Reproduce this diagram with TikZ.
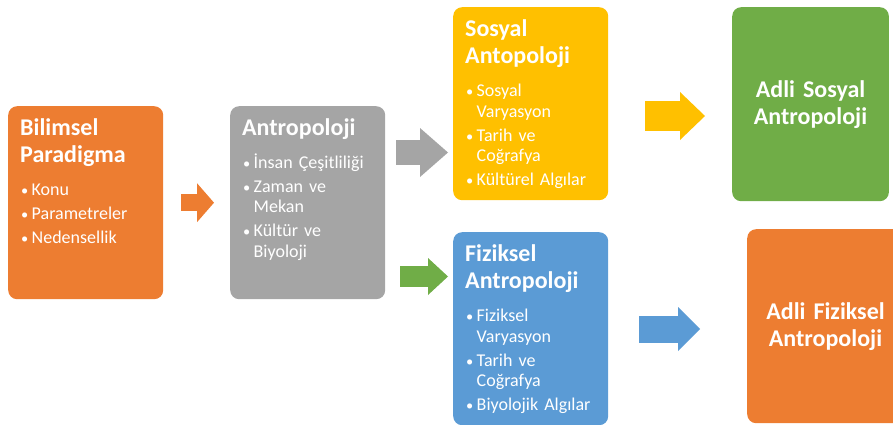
\documentclass[tikz,border=0pt]{standalone}
\usepackage{fontspec}
\setmainfont{Carlito}
\usepackage{tikz}
\usetikzlibrary{positioning,arrows.meta,calc}
\definecolor{paraorange}{HTML}{ED7D31}
\definecolor{antgray}{HTML}{A5A5A5}
\definecolor{sosyellow}{HTML}{FFC000}
\definecolor{adligreen}{HTML}{70AD47}
\definecolor{fizblue}{HTML}{5B9BD5}
\newcommand{\tightspace}{\spaceskip=0.2em plus 0.1em minus 0.05em\relax}
\newcommand{\boxtitle}[1]{{\fontsize{24}{27.5}\selectfont\bfseries\tightspace #1\par}\vspace{12.5pt}}
\newcommand{\bitem}[1]{\par\hangindent=11.5pt\hangafter=1\noindent\makebox[11.5pt][l]{\hspace{1pt}\scalebox{0.8}{\textbullet}}#1\par\vspace{3.5pt}}
\tikzset{
  fieldbox/.style={rounded corners=9pt, minimum width=155pt, minimum height=193pt, inner sep=0pt, anchor=north west},
  fieldtext/.style={text=white, text width=142pt, inner sep=0pt, font=\fontsize{18}{20.5}\selectfont\tightspace, execute at begin node=\raggedright},
  adlibox/.style={rounded corners=9pt, minimum width=155pt, minimum height=194pt, text width=150pt, align=center, text=white, font=\fontsize{24}{27}\selectfont\bfseries\tightspace, anchor=north west},
  blockarrow/.style n args={3}{line width=#1, -{Triangle[length=#2, width=#3, line width=0pt]}}
}
\begin{document}
\begin{tikzpicture}[x=1pt, y=-1pt]
  \clip (0,0) rectangle (893,425);
  \node[fieldbox, fill=paraorange] (bil) at (8,106) {};
  \node[fieldbox, fill=antgray] (ant) at (230,106) {};
  \node[fieldbox, fill=sosyellow] (sos) at (453,7) {};
  \node[fieldbox, fill=fizblue] (fiz) at (453,232) {};
  \node[adlibox, fill=adligreen] (adlisos) at (732,7) {Adli Sosyal\\Antropoloji};
  \node[adlibox, fill=paraorange] (adlifiz) at (747,229) {Adli Fiziksel\\Antropoloji};

  \node[fieldtext, below right=12pt and 12pt of bil.north west] (biltxt) {%
    \boxtitle{Bilimsel\\Paradigma}\bitem{Konu}\bitem{Parametreler}\bitem{Nedensellik}};
  \node[fieldtext, below right=12pt and 12pt of ant.north west] (anttxt) {%
    \boxtitle{Antropoloji}\bitem{İnsan Çeşitliliği}\bitem{Zaman ve\newline Mekan}\bitem{Kültür ve\newline Biyoloji}};
  \node[fieldtext, below right=12pt and 12pt of sos.north west] (sostxt) {%
    \boxtitle{Sosyal\\Antopoloji}\bitem{Sosyal\newline Varyasyon}\bitem{Tarih ve\newline Coğrafya}\bitem{Kültürel Algılar}};
  \node[fieldtext, below right=12pt and 12pt of fiz.north west] (fiztxt) {%
    \boxtitle{Fiziksel\\Antropoloji}\bitem{Fiziksel\newline Varyasyon}\bitem{Tarih ve\newline Coğrafya}\bitem{Biyolojik Algılar}};

  \coordinate (gs) at (396,152.5);
  \coordinate (ge) at (448,152.5);
  \coordinate (fs) at (400,276.5);
  \coordinate (fe) at (448,276.5);
  \coordinate (ss) at (645,116);
  \coordinate (se) at (705,116);
  \coordinate (bs) at (639,329);
  \coordinate (be) at (700,329);
  \draw[blockarrow={17pt}{17pt}{39pt}, paraorange] ($(bil.east)+(18,0)$) -- ($(ant.west)+(-16,0)$);
  \draw[blockarrow={25pt}{28pt}{49pt}, antgray] (gs) -- (ge);
  \draw[blockarrow={21pt}{20pt}{37pt}, adligreen] (fs) -- (fe);
  \draw[blockarrow={30pt}{25pt}{48pt}, sosyellow] (ss) -- (se);
  \draw[blockarrow={27pt}{22pt}{44pt}, fizblue] (bs) -- (be);
\end{tikzpicture}
\end{document}
